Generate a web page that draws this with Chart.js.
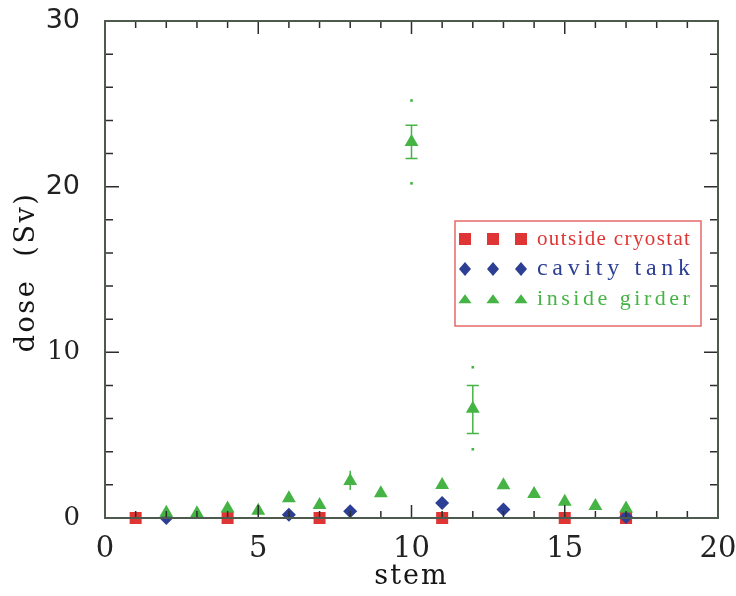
<!DOCTYPE html>
<html>
<head>
<meta charset="utf-8">
<script src="https://cdn.jsdelivr.net/npm/chart.js@4"></script>
<style>
  body { margin: 0; background: #fff; }
  #wrap { width: 736px; height: 596px; position: relative; }
</style>
</head>
<body>
<div id="wrap"><canvas id="myChart"></canvas></div>
<script>
// dose per stem, three measurement positions
const outsideStem = [1, 4, 7, 11, 15, 17];
const outsideDose = [0, 0, 0, 0, 0, 0];
const cavityStem = [2, 6, 8, 11, 13, 17];
const cavityDose = [0, 0.2, 0.4, 0.9, 0.52, 0.06];
const girderStem = [2, 3, 4, 5, 6, 7, 8, 9, 10, 11, 12, 13, 14, 15, 16, 17];
const girderDose = [0.32, 0.28, 0.58, 0.44, 1.19, 0.78, 2.23, 1.49, 22.7, 1.99, 6.6, 1.97, 1.45, 0.98, 0.72, 0.58];

// error bars and outer range on a few girder points
const errStem = [8, 10, 12];
const errLow = [1.69, 21.7, 5.1];
const errHigh = [2.85, 23.7, 8.0];
const errCap = [0, 6, 6];
const rangeLow = [null, 20.2, 4.15];
const rangeHigh = [null, 25.2, 9.1];

const xTicks = [0, 5, 10, 15, 20];
const yTicks = [0, 10, 20, 30];

const RED = '#e03535';
const BLUE = '#2d3f95';
const GREEN = '#45b445';
const FRAME = '#4f5a4f';

const legendItems = [
  { label: 'outside cryostat', color: RED, shape: 'rect', size: 21 },
  { label: 'cavity tank', color: BLUE, shape: 'diamond', size: 24 },
  { label: 'inside girder', color: GREEN, shape: 'triangle', size: 22 }
];

function toPoints(xs, ys) {
  return xs.map((x, i) => ({ x: x, y: ys[i] }));
}

function marker(ctx, shape, x, y, s) {
  ctx.beginPath();
  if (shape === 'rect') {
    ctx.rect(x - s, y - s, 2 * s, 2 * s);
  } else if (shape === 'diamond') {
    ctx.moveTo(x, y - s * 1.15);
    ctx.lineTo(x + s, y);
    ctx.lineTo(x, y + s * 1.15);
    ctx.lineTo(x - s, y);
    ctx.closePath();
  } else {
    ctx.moveTo(x, y - s * 0.8);
    ctx.lineTo(x + s * 1.1, y + s * 0.7);
    ctx.lineTo(x - s * 1.1, y + s * 0.7);
    ctx.closePath();
  }
  ctx.fill();
}

// keep the plot box fixed, no extra room for overhanging tick labels
function noOverhang(s) {
  s.paddingLeft = 0;
  s.paddingRight = 0;
  s.paddingTop = 0;
  s.paddingBottom = 0;
}

const errorBars = {
  id: 'errorBars',
  beforeDatasetsDraw(chart) {
    const { ctx, scales: { x, y } } = chart;
    ctx.save();
    ctx.strokeStyle = GREEN;
    ctx.fillStyle = GREEN;
    ctx.lineWidth = 1.5;
    errStem.forEach((s, i) => {
      const px = x.getPixelForValue(s);
      const lo = y.getPixelForValue(errLow[i]);
      const hi = y.getPixelForValue(errHigh[i]);
      ctx.beginPath();
      ctx.moveTo(px, lo);
      ctx.lineTo(px, hi);
      if (errCap[i]) {
        ctx.moveTo(px - errCap[i], lo);
        ctx.lineTo(px + errCap[i], lo);
        ctx.moveTo(px - errCap[i], hi);
        ctx.lineTo(px + errCap[i], hi);
      }
      ctx.stroke();
      [rangeLow[i], rangeHigh[i]].forEach(v => {
        if (v === null) return;
        const py = y.getPixelForValue(v);
        ctx.fillRect(px - 1.3, py - 1.3, 2.6, 2.6);
      });
    });
    ctx.restore();
  }
};

const frame = {
  id: 'frame',
  afterDatasetsDraw(chart) {
    const { ctx, chartArea: a, scales: { x, y } } = chart;
    ctx.save();
    // inward ticks on all four sides
    ctx.strokeStyle = '#2a2f2a';
    ctx.lineWidth = 1.5;
    ctx.beginPath();
    for (let v = 1; v < 20; v++) {
      const px = x.getPixelForValue(v);
      const len = v % 5 === 0 ? 13 : 7;
      ctx.moveTo(px, a.bottom);
      ctx.lineTo(px, a.bottom - len);
      ctx.moveTo(px, a.top);
      ctx.lineTo(px, a.top + len);
    }
    for (let v = 2; v < 30; v += 2) {
      const py = y.getPixelForValue(v);
      const len = v % 10 === 0 ? 14 : 8;
      ctx.moveTo(a.left, py);
      ctx.lineTo(a.left + len, py);
      ctx.moveTo(a.right, py);
      ctx.lineTo(a.right - len, py);
    }
    ctx.stroke();
    ctx.strokeStyle = FRAME;
    ctx.lineWidth = 2;
    ctx.strokeRect(a.left, a.top, a.right - a.left, a.bottom - a.top);

    // axis titles
    ctx.fillStyle = '#151515';
    ctx.textAlign = 'center';
    ctx.textBaseline = 'middle';
    ctx.font = '27px "DejaVu Serif"';
    ctx.letterSpacing = '2px';
    ctx.fillText('stem', (a.left + a.right) / 2, 577);
    ctx.translate(27, 272);
    ctx.rotate(-Math.PI / 2);
    ctx.font = '27px "DejaVu Serif"';
    ctx.letterSpacing = '2.5px';
    ctx.fillText('dose  (Sv)', 0, 0);
    ctx.restore();

    // legend box
    ctx.save();
    ctx.strokeStyle = '#e86a6a';
    ctx.lineWidth = 1.5;
    ctx.strokeRect(455, 221, 246, 105);
    ctx.textBaseline = 'middle';
    ctx.textAlign = 'left';
    legendItems.forEach((item, i) => {
      const cy = 239 + i * 30;
      ctx.fillStyle = item.color;
      [465, 493, 521].forEach(mx => {
        marker(ctx, item.shape, mx, cy, 6);
      });
      ctx.font = item.size + 'px "Liberation Serif"';
      ctx.letterSpacing = '0px';
      const w = ctx.measureText(item.label).width;
      const n = item.label.length;
      ctx.letterSpacing = ((153 - w) / (n - 1)).toFixed(2) + 'px';
      ctx.fillText(item.label, 537, cy);
    });
    ctx.letterSpacing = '0px';
    ctx.restore();
  }
};

const ctx = document.getElementById('myChart');

new Chart(ctx, {
  type: 'scatter',
  data: {
    datasets: [
      {
        label: 'outside cryostat',
        data: toPoints(outsideStem, outsideDose),
        pointStyle: 'rect',
        pointRadius: 8.5,
        backgroundColor: RED,
        borderColor: RED,
        borderWidth: 0,
        clip: false,
        order: 3
      },
      {
        label: 'cavity tank',
        data: toPoints(cavityStem, cavityDose),
        pointStyle: 'rectRot',
        pointRadius: 7,
        backgroundColor: BLUE,
        borderColor: BLUE,
        borderWidth: 0,
        clip: false,
        order: 2
      },
      {
        label: 'inside girder',
        data: toPoints(girderStem, girderDose),
        pointStyle: 'triangle',
        pointRadius: 8,
        backgroundColor: GREEN,
        borderColor: GREEN,
        borderWidth: 0,
        clip: false,
        order: 1
      }
    ]
  },
  options: {
    responsive: true,
    maintainAspectRatio: false,
    animation: false,
    events: [],
    layout: { padding: { left: 0, top: 21, right: 18, bottom: 0 } },
    plugins: {
      legend: { display: false },
      tooltip: { enabled: false }
    },
    scales: {
      x: {
        type: 'linear',
        min: 0,
        max: 20,
        afterFit: (s) => { s.height = 78; noOverhang(s); },
        afterBuildTicks: (s) => { s.ticks = xTicks.map(v => ({ value: v })); },
        grid: { display: false, drawTicks: false },
        border: { display: false },
        ticks: {
          color: '#222',
          padding: 14,
          maxRotation: 0,
          font: { family: '"DejaVu Serif"', size: 29 }
        }
      },
      y: {
        type: 'linear',
        min: 0,
        max: 30,
        afterFit: (s) => { s.width = 105; noOverhang(s); },
        afterBuildTicks: (s) => { s.ticks = yTicks.map(v => ({ value: v })); },
        grid: { display: false, drawTicks: false },
        border: { display: false },
        ticks: {
          color: '#222',
          padding: 25,
          font: (c) => (c.tick && c.tick.value >= 20)
            ? { family: '"DejaVu Sans"', size: 27 }
            : { family: '"DejaVu Serif"', size: 26 }
        }
      }
    }
  },
  plugins: [errorBars, frame]
});
</script>
</body>
</html>
